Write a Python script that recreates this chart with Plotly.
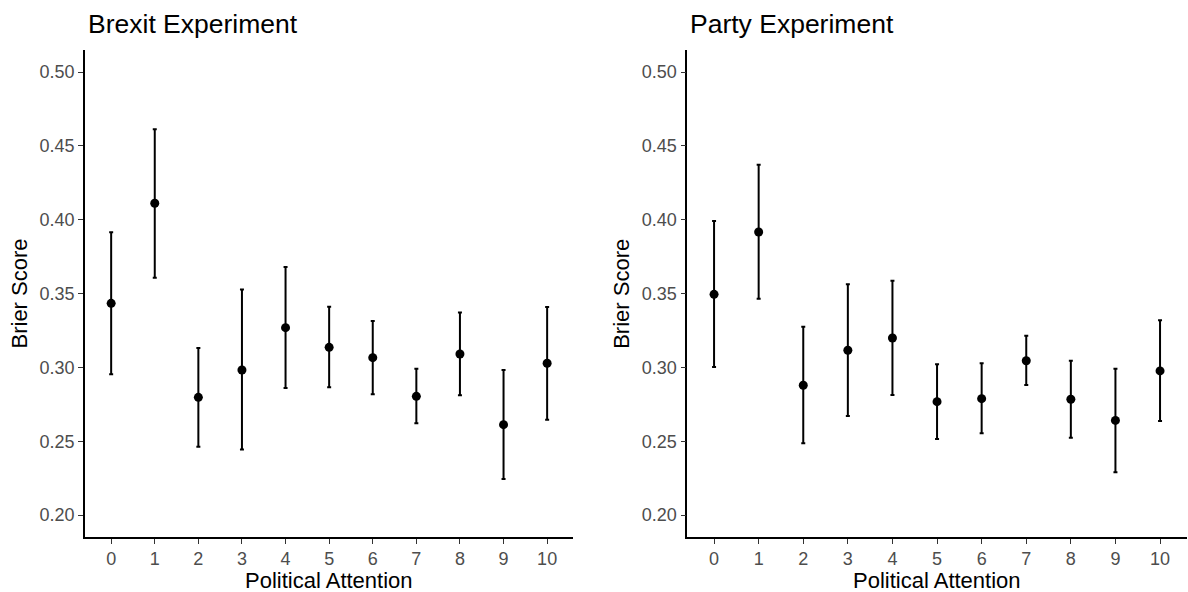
import plotly.graph_objects as go

attention = [0, 1, 2, 3, 4, 5, 6, 7, 8, 9, 10]
tick_labels = ["0", "1", "2", "3", "4", "5", "6", "7", "8", "9", "10"]

brexit_score = [0.3434, 0.4112, 0.2797, 0.2982, 0.3269, 0.3136, 0.3066, 0.2804, 0.3091, 0.2612, 0.3028]
brexit_upper = [0.3916, 0.4613, 0.3131, 0.3527, 0.3680, 0.3411, 0.3314, 0.2991, 0.3371, 0.2982, 0.3409]
brexit_lower = [0.2953, 0.3608, 0.2463, 0.2443, 0.2860, 0.2865, 0.2818, 0.2621, 0.2811, 0.2244, 0.2646]

party_score = [0.3495, 0.3917, 0.2879, 0.3116, 0.3199, 0.2768, 0.2788, 0.3045, 0.2784, 0.2641, 0.2976]
party_upper = [0.3992, 0.4373, 0.3276, 0.3563, 0.3587, 0.3021, 0.3028, 0.3215, 0.3045, 0.2991, 0.3319]
party_lower = [0.3003, 0.3465, 0.2486, 0.2671, 0.2813, 0.2515, 0.2553, 0.2881, 0.2524, 0.2289, 0.2637]

y_ticks = [0.20, 0.25, 0.30, 0.35, 0.40, 0.45, 0.50]
y_tick_labels = ["0.20", "0.25", "0.30", "0.35", "0.40", "0.45", "0.50"]

panel_titles = ["Brexit Experiment", "Party Experiment"]
x_title = "Political Attention"
y_title = "Brier Score"

W, H = 1188, 592
FONT = "Liberation Sans, Arial, sans-serif"

fig = go.Figure()

def add_panel(scores, upper, lower, xa, ya):
    fig.add_trace(go.Scatter(
        x=attention, y=scores, mode="markers",
        xaxis=xa, yaxis=ya,
        marker=dict(color="black", size=9),
        error_y=dict(type="data", symmetric=False,
                     array=[u - s for u, s in zip(upper, scores)],
                     arrayminus=[s - l for s, l in zip(scores, lower)],
                     color="black", thickness=2, width=2),
        showlegend=False, hoverinfo="x+y",
    ))

add_panel(brexit_score, brexit_upper, brexit_lower, "x", "y")
add_panel(party_score, party_upper, party_lower, "x2", "y2")

top_px, bot_px = 50, 537
ydom = [1 - bot_px / H, 1 - top_px / H]
left_dom = [85 / W, 573.3 / W]
right_dom = [687.3 / W, 1186.8 / W]

axis_common = dict(showline=True, linecolor="black", linewidth=1.6, ticks="outside",
                   ticklen=5, tickwidth=1.4, tickcolor="#333333", showgrid=False,
                   zeroline=False, tickfont=dict(family=FONT, size=18, color="#4D4D4D"))

fig.update_layout(
    width=W, height=H,
    margin=dict(l=0, r=0, t=0, b=0),
    plot_bgcolor="white", paper_bgcolor="white",
    font=dict(family=FONT),
    xaxis=dict(domain=left_dom, range=[-0.6, 10.6], tickvals=attention, ticktext=tick_labels,
               anchor="y", **axis_common),
    yaxis=dict(domain=ydom, range=[0.1851, 0.515], tickvals=y_ticks, ticktext=y_tick_labels,
               anchor="x", **axis_common),
    xaxis2=dict(domain=right_dom, range=[-0.6, 10.6], tickvals=attention, ticktext=tick_labels,
                anchor="y2", **axis_common),
    yaxis2=dict(domain=ydom, range=[0.1851, 0.515], tickvals=y_ticks, ticktext=y_tick_labels,
                anchor="x2", **axis_common),
)

annotations = []
for dom, title in zip([left_dom, right_dom], panel_titles):
    annotations.append(dict(text=title, xref="paper", yref="paper", x=dom[0] + 1 / W,
                            y=1 - 24 / H, xanchor="left", yanchor="middle", showarrow=False,
                            font=dict(family=FONT, size=26.5, color="black")))
    annotations.append(dict(text=x_title, xref="paper", yref="paper", x=(dom[0] + dom[1]) / 2,
                            y=1 - 580.5 / H, xanchor="center", yanchor="middle", showarrow=False,
                            font=dict(family=FONT, size=22, color="black")))
    annotations.append(dict(text=y_title, xref="paper", yref="paper", x=dom[0] - 66 / W,
                            y=1 - 293.5 / H, xanchor="center", yanchor="middle", showarrow=False,
                            textangle=-90,
                            font=dict(family=FONT, size=22, color="black")))
fig.update_layout(annotations=annotations)

fig.write_html("out.html", config={"displayModeBar": False},
               post_script="document.body.style.margin='0';document.body.style.overflow='hidden';")
